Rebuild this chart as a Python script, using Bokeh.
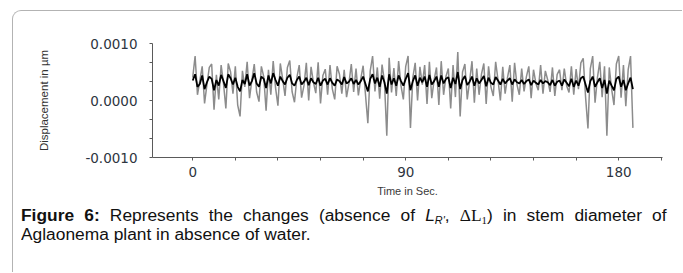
import numpy as np
from bokeh.plotting import figure
from bokeh.models import Range1d, FixedTicker, Div, NumeralTickFormatter
from bokeh.layouts import column
from bokeh.embed import file_html
from bokeh.resources import INLINE

# ---------------- data (displacement values in units of 1e-4 µm) ----------------
time_s = list(range(187))

gray_e4 = [
    4.0, 7.8, 1.0, 3.5, 6.0, -0.5, 2.8, 5.8, 6.4, -1.6,
    4.5, 0.2, 6.2, 3.0, -1.4, 6.5, 5.0, 1.2, 6.0, -0.8,
    -2.8, 5.2, 2.4, 6.8, 0.4, 3.6, 6.4, 1.5, -0.2, 6.0,
    4.2, -1.8, 5.4, 1.0, 6.9, 2.2, -0.9, 6.5, 3.8, 0.8,
    5.8, 7.0, 1.5, -0.3, 4.0, 6.2, 0.5, 2.6, 6.6, 0.0,
    5.9, 3.2, 1.3, 6.7, -0.5, 4.4, 5.5, 1.0, 6.2, 2.0,
    0.2, 6.0, 4.6, 1.2, 5.4, 0.6, 3.0, 6.4, 1.5, 5.6,
    0.9, 3.8, 6.1, 1.0, -4.0, 5.2, 7.8, 1.6, 5.8, 0.3,
    6.3, 3.4, -6.2, 7.5, 1.4, 5.7, 0.8, 6.9, 2.6, 0.2,
    6.0, 7.8, -4.8, 4.0, 6.6, 0.0, 5.9, 2.8, 6.2, -0.6,
    6.8, 0.4, 3.6, 5.8, -0.8, 6.9, 1.0, 4.2, 5.6, -1.4,
    6.2, 0.6, 8.5, -2.8, 5.0, 6.4, 0.2, 3.4, 6.9, -0.4,
    5.6, 1.0, 4.6, 6.5, -0.6, 6.0, 2.4, 0.8, 6.8, 3.6,
    0.0, 5.9, 1.2, 4.0, 6.2, -0.2, 6.6, 2.8, 1.0, 5.6,
    1.6, 4.2, 6.0, 0.4, 5.4, 3.0, 1.8, 6.2, 1.2, 5.2,
    3.6, 1.5, 5.8, 0.8, 4.6, 5.4, 1.8, 5.6, 2.6, 1.4,
    6.0, 1.0, 5.5, 2.0, 6.6, 7.4, 0.6, -4.9, 5.6, 7.8,
    -0.4, 4.0, 6.8, 0.6, 6.0, -6.2, 5.8, 2.0, -0.8, 6.4,
    7.8, 0.5, 6.2, -1.0, 5.4, 7.8, -4.8,
]

black_e4 = [
    3.5, 4.6, 2.4, 2.9, 4.4, 2.0, 3.2, 4.2, 3.8, 1.8,
    3.6, 2.6, 4.5, 3.4, 2.2, 4.6, 3.9, 2.8, 4.0, 2.4,
    1.6, 3.6, 2.9, 4.6, 2.6, 3.4, 4.8, 3.0, 2.4, 4.2,
    3.8, 2.2, 4.4, 3.0, 4.8, 3.6, 2.6, 4.2, 3.4, 2.8,
    4.0, 4.5, 3.0, 2.6, 3.6, 4.2, 2.8, 3.3, 4.0, 2.7,
    3.9, 3.2, 2.9, 4.0, 2.6, 3.5, 3.8, 2.8, 3.9, 3.1,
    2.6, 3.7, 3.4, 2.8, 4.1, 3.0, 3.3, 3.9, 2.9, 3.6,
    2.8, 3.4, 4.2, 2.9, 1.6, 3.8, 4.6, 3.0, 4.0, 2.4,
    4.4, 3.2, 1.2, 4.6, 2.8, 3.9, 2.6, 4.4, 3.4, 2.6,
    3.8, 4.8, 1.8, 3.4, 4.4, 2.6, 4.0, 3.2, 4.2, 2.4,
    4.5, 2.8, 3.4, 4.2, 2.4, 4.4, 3.0, 3.8, 4.1, 2.2,
    4.0, 2.9, 5.0, 2.0, 3.6, 4.3, 2.7, 3.3, 4.2, 2.6,
    3.9, 3.0, 3.6, 4.3, 2.5, 4.0, 3.1, 2.8, 4.1, 3.5,
    2.8, 3.8, 3.0, 3.5, 3.9, 2.8, 3.7, 3.2, 3.0, 3.6,
    2.9, 3.4, 3.7, 2.7, 3.5, 3.1, 2.8, 3.6, 3.0, 3.4,
    3.2, 2.7, 3.6, 2.6, 3.3, 3.5, 2.6, 3.7, 3.1, 2.5,
    3.8, 2.4, 3.5, 2.6, 3.9, 4.2, 2.8, 1.4, 3.4, 4.2,
    2.4, 3.2, 3.9, 2.2, 3.6, 1.2, 3.5, 2.6, 1.8, 3.8,
    4.2, 2.4, 3.6, 1.8, 3.0, 4.0, 2.0,
]

y_major_ticks = [-0.001, 0.0, 0.001]
y_minor_ticks = [-0.000667, -0.000333, 0.000333, 0.000667]
x_major_ticks = [0, 90, 180]
x_minor_ticks = [18, 36, 54, 72, 108, 126, 144, 162, 198]

x_title = "Time in Sec."
y_title = "Displacement in µm"

UNIT = 1e-4
gray_vals = np.array(gray_e4) * UNIT
black_vals = np.array(black_e4) * UNIT

BORDER = "1px solid #b3b3b3"

# ---------------- figure ----------------
FIG_W, FIG_H = 670, 196
p = figure(width=FIG_W, height=FIG_H,
           x_range=Range1d(-17, 198.5), y_range=Range1d(-0.001, 0.001),
           output_backend="svg", toolbar_location=None,
           min_border_left=139, min_border_right=21,
           min_border_top=32, min_border_bottom=50,
           margin=(10, 0, 0, 12),
           styles={"border-top": BORDER, "border-left": BORDER,
                   "border-top-left-radius": "9px"})
p.outline_line_color = None
p.grid.visible = False
p.background_fill_color = "white"
p.border_fill_color = None

p.line(time_s, gray_vals, line_color="#8c8c8c", line_width=1.5)
p.line(time_s, black_vals, line_color="#000000", line_width=1.8)

tick_font = "DejaVu Sans"
axis_col = "#5a5a5a"

p.yaxis.ticker = FixedTicker(ticks=y_major_ticks, minor_ticks=y_minor_ticks)
p.yaxis.formatter = NumeralTickFormatter(format="0.0000")
p.xaxis.ticker = FixedTicker(ticks=x_major_ticks, minor_ticks=x_minor_ticks)

for ax in (p.xaxis[0], p.yaxis[0]):
    ax.axis_line_color = axis_col
    ax.major_tick_line_color = axis_col
    ax.minor_tick_line_color = axis_col
    ax.major_tick_out = 3
    ax.major_tick_in = 0
    ax.minor_tick_out = 3
    ax.minor_tick_in = 0
    ax.major_label_text_font = tick_font
    ax.major_label_text_font_size = "13.5px"
    ax.major_label_text_color = "#2e3540"

p.yaxis.major_label_standoff = 12
p.xaxis.major_label_standoff = 6

p.xaxis.axis_label = x_title
p.xaxis.axis_label_text_font = "Liberation Sans"
p.xaxis.axis_label_text_font_style = "normal"
p.xaxis.axis_label_text_font_size = "11px"
p.xaxis.axis_label_text_color = "#3a3a3a"
p.xaxis.axis_label_standoff = 5

p.yaxis.axis_label = y_title
p.yaxis.axis_label_text_font = "Liberation Sans"
p.yaxis.axis_label_text_font_style = "normal"
p.yaxis.axis_label_text_font_size = "11.5px"
p.yaxis.axis_label_text_color = "#333333"
p.yaxis.axis_label_standoff = 32

SUB = 'style="font-size:10px;line-height:0;vertical-align:-3px"'
caption_html = (
    '<div style="padding-left:8px;white-space:nowrap;">'
    '<div style="transform:scaleX(1.085);transform-origin:left top;width:595px;'
    "font-family:'Liberation Sans',Arial,sans-serif;font-size:16px;line-height:19px;color:#111;\">"
    '<div style="text-align:justify;text-align-last:justify;height:19px;">'
    f'<b>Figure 6:</b> Represents the changes (absence of <i>L</i><sub {SUB}><i>R\'</i></sub>, '
    f"<span style=\"font-family:'Liberation Serif',serif\">&Delta;L<sub {SUB}>1</sub></span>)"
    ' in stem diameter of</div>'
    '<div>Aglaonema plant in absence of water.</div>'
    '</div></div>'
)
caption = Div(text=caption_html, width=670, height=66, margin=(0, 0, 0, 12),
              styles={"border-left": BORDER})

layout = column(p, caption, spacing=0)

open("out.html", "w").write(file_html(layout, INLINE))
